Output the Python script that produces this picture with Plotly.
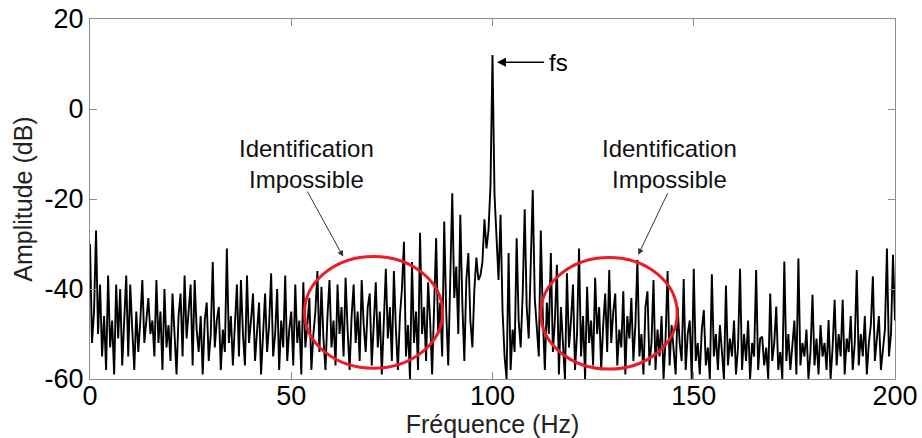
import plotly.graph_objects as go

# Spectrum amplitude (dB), one value every 0.5 Hz
amp_000_010 = [-30, -52, -45, -27, -50, -39, -55, -46, -58, -37, -53, -47, -59, -39, -51, -40, -57, -46, -37, -55]
amp_010_020 = [-39, -49, -58, -45, -54, -47, -38, -52, -46, -42, -50, -47, -55, -38, -52, -45, -58, -40, -53, -48]
amp_020_030 = [-56, -41, -50, -59, -46, -41, -55, -37, -51, -45, -39, -57, -38, -49, -54, -46, -59, -47, -43, -56]
amp_030_040 = [-50, -34, -53, -47, -44, -58, -49, -54, -31, -52, -46, -57, -48, -39, -55, -38, -50, -57, -37, -52]
amp_040_050 = [-47, -41, -56, -49, -43, -59, -51, -41, -54, -48, -36.5, -55, -50, -40, -58, -47, -53, -37, -56, -49]
amp_050_060 = [-45, -57, -39, -52, -47, -59, -38.5, -53, -48, -42, -58, -50, -45, -36, -54, -39.5, -51, -58, -46, -38]
amp_060_070 = [-53, -47, -57, -39, -50, -44, -55, -37.5, -49, -58, -46, -39, -52, -45, -56, -38, -48, -54, -44, -41]
amp_070_080 = [-57, -49, -38.5, -53, -45, -59, -47, -35.5, -51, -44, -56, -36, -49, -58, -46, -40, -29.5, -55, -48, -60]
amp_080_090 = [-34, -52, -45, -58, -27.5, -50, -44, -56, -38.5, -47, -59, -41, -28.7, -50, -43, -55, -25, -45, -57, -38]
amp_090_100 = [-18.7, -42, -35, -50, -23.5, -43, -56, -38, -32, -47, -53, -40, -33, -38, -37, -34, -24.5, -31, -27, -17]
amp_100_110 = [12, -19, -29, -38, -23.5, -45, -55, -60, -32, -58, -49, -54, -28.7, -47, -53, -41, -22.3, -44, -51, -36]
amp_110_120 = [-18, -42, -49, -55, -27, -46, -58, -43, -50, -32, -54, -47, -34.6, -59, -44, -51, -60, -36.5, -53, -47]
amp_120_130 = [-39, -58, -50, -31, -55, -46, -60, -39.5, -52, -47, -57, -37.5, -50, -44, -58, -48, -41, -54, -35.8, -52]
amp_130_140 = [-45, -41, -57, -49, -53, -40.5, -59, -46, -51, -42, -56, -48, -33.5, -55, -50, -59, -44, -40.5, -57, -52]
amp_140_150 = [-38, -58, -49, -55, -46, -60, -51, -36, -57, -48, -53, -59, -44, -52, -56, -37.8, -58, -50, -47, -60]
amp_150_160 = [-35.5, -56, -52, -59, -49, -44.7, -57, -53, -60, -36.7, -55, -50, -58, -48, -54, -60, -39.2, -57, -51, -55]
amp_160_170 = [-47, -59, -53, -35.5, -58, -50, -56, -47, -60, -52, -55, -35.8, -58, -51, -50.6, -57, -53, -60, -41, -56]
amp_170_180 = [-52, -43.9, -58, -54, -60, -33.9, -56, -50, -58, -53, -47, -59, -33.2, -57, -52, -55, -49, -60, -54, -41.3]
amp_180_190 = [-57, -51, -59, -48, -55, -52, -58, -46.9, -60, -53, -42.4, -57, -50, -55, -42.4, -59, -51, -54, -46, -58]
amp_190_200 = [-52, -35.8, -57, -50, -55, -46, -59, -52, -48, -37.2, -56, -51, -46, -58, -53, -49, -31, -55, -50, -32.4, -47]

freq_step_hz = 0.5
x_ticks = [0, 50, 100, 150, 200]
y_ticks = [-60, -40, -20, 0, 20]
x_title = "Fréquence (Hz)"
y_title = "Amplitude (dB)"
note_text = "Identification<br>Impossible"
fs_text = "fs"

amplitude = (amp_000_010 + amp_010_020 + amp_020_030 + amp_030_040 + amp_040_050
             + amp_050_060 + amp_060_070 + amp_070_080 + amp_080_090 + amp_090_100
             + amp_100_110 + amp_110_120 + amp_120_130 + amp_130_140 + amp_140_150
             + amp_150_160 + amp_160_170 + amp_170_180 + amp_180_190 + amp_190_200)
freq = [i * freq_step_hz for i in range(len(amplitude))]

FONT = "Liberation Sans, Arial, sans-serif"

fig = go.Figure()
fig.add_trace(go.Scatter(x=freq, y=amplitude, mode="lines",
                         line=dict(color="black", width=1.9), showlegend=False,
                         hoverinfo="skip"))

red = "rgb(236,28,36)"
# Ellipses marking the regions
fig.add_shape(type="circle", xref="x", yref="y", x0=53.3, x1=87.6, y0=-57.6, y1=-32.8,
              line=dict(color=red, width=3))
fig.add_shape(type="circle", xref="x", yref="y", x0=112.0, x1=145.9, y0=-57.8, y1=-33.0,
              line=dict(color=red, width=3))

# Text labels
fig.add_annotation(x=53.9, y=-12.2, xref="x", yref="y", text=note_text, showarrow=False,
                   font=dict(family=FONT, size=24, color="#111"), align="center")
fig.add_annotation(x=143.9, y=-12.2, xref="x", yref="y", text=note_text, showarrow=False,
                   font=dict(family=FONT, size=24, color="#111"), align="center")
# Arrows
fig.add_annotation(x=62.9, y=-32.8, ax=53.8, ay=-18.0, xref="x", yref="y", axref="x", ayref="y",
                   text="", showarrow=True, arrowhead=2, arrowsize=1.2, arrowwidth=1,
                   arrowcolor="#333")
fig.add_annotation(x=136.2, y=-32.4, ax=143.7, ay=-18.4, xref="x", yref="y", axref="x", ayref="y",
                   text="", showarrow=True, arrowhead=2, arrowsize=1.2, arrowwidth=1,
                   arrowcolor="#333")
fig.add_annotation(x=101.1, y=10.4, ax=113.2, ay=10.4, xref="x", yref="y", axref="x", ayref="y",
                   text="", showarrow=True, arrowhead=2, arrowsize=1.2, arrowwidth=1.5,
                   arrowcolor="black")
fig.add_annotation(x=113.5, y=10.4, xref="x", yref="y", text=fs_text, showarrow=False,
                   xanchor="left", font=dict(family=FONT, size=24, color="black"))

axis_common = dict(showline=True, linecolor="#8c8c8c", linewidth=1, mirror="ticks",
                   ticks="inside", ticklen=7, tickcolor="#8c8c8c", showgrid=False,
                   zeroline=False, automargin=False,
                   tickfont=dict(family=FONT, size=27, color="black"))
fig.update_xaxes(range=[0, 200], tickvals=x_ticks, ticktext=[str(v) for v in x_ticks],
                 ticklabelstandoff=-7,
                 title=dict(text=x_title, font=dict(family=FONT, size=25, color="#222"), standoff=10),
                 **axis_common)
fig.update_yaxes(range=[-60, 20], tickvals=y_ticks, ticktext=[str(v) for v in y_ticks],
                 title=dict(text=y_title, font=dict(family=FONT, size=25, color="#222"), standoff=4),
                 **axis_common)

fig.update_layout(width=922, height=438, margin=dict(l=90, r=27, t=19, b=59),
                  paper_bgcolor="white", plot_bgcolor="white")
fig.write_html("out.html")
